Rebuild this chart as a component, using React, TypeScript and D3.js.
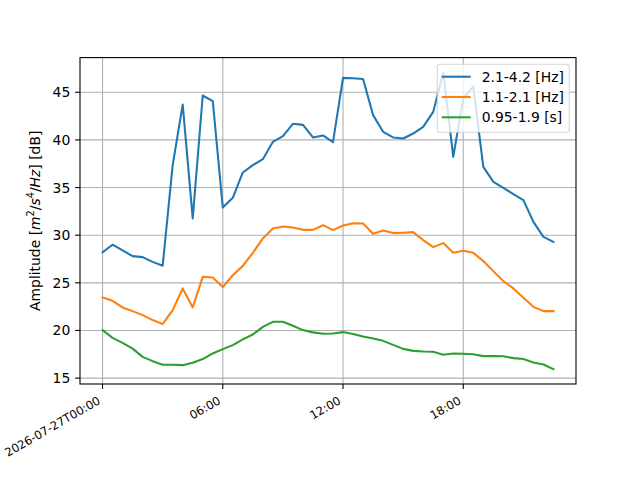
import React from "react";
import * as d3 from "d3";

const START = "2026-07-27T00:00:00";
const STEP_MINUTES = 30;

const blue = [28.2, 29.0, 28.4, 27.8, 27.7, 27.2, 26.8, 37.35, 43.7, 31.76, 44.66, 44.07, 32.9, 33.92, 36.58, 37.35, 37.98, 39.8, 40.39, 41.69, 41.58, 40.26, 40.47, 39.76, 46.51, 46.47, 46.4, 42.6, 40.85, 40.26, 40.15, 40.67, 41.37, 42.94, 47.08, 38.22, 44.35, 45.6, 37.17, 35.6, 34.97, 34.3, 33.68, 31.4, 29.83, 29.3];
const orange = [23.47, 23.11, 22.42, 22.03, 21.61, 21.09, 20.67, 22.13, 24.41, 22.42, 25.63, 25.56, 24.55, 25.8, 26.78, 28.15, 29.66, 30.7, 30.92, 30.81, 30.56, 30.56, 31.05, 30.53, 31.02, 31.26, 31.23, 30.15, 30.49, 30.22, 30.26, 30.32, 29.48, 28.75, 29.17, 28.15, 28.36, 28.15, 27.28, 26.23, 25.18, 24.41, 23.43, 22.48, 22.03, 22.03];
const green = [20.04, 19.23, 18.7, 18.1, 17.23, 16.78, 16.4, 16.4, 16.36, 16.61, 17.0, 17.59, 18.04, 18.46, 19.06, 19.58, 20.38, 20.91, 20.91, 20.49, 20.04, 19.8, 19.65, 19.69, 19.83, 19.62, 19.37, 19.16, 18.91, 18.49, 18.07, 17.86, 17.79, 17.76, 17.45, 17.59, 17.55, 17.5, 17.31, 17.31, 17.3, 17.1, 17.0, 16.64, 16.43, 15.94];

const seriesNames = ["2.1-4.2 [Hz]", "1.1-2.1 [Hz]", "0.95-1.9 [s]"];
const seriesColors = ["#1f77b4", "#ff7f0e", "#2ca02c"];
const seriesValues = [blue, orange, green];

const xTickHours = [0, 6, 12, 18];
const xTickLabels = ["2026-07-27T00:00", "06:00", "12:00", "18:00"];
const yTicks = [15, 20, 25, 30, 35, 40, 45];

const W = 640, H = 480;
const L = 80, R = 576, T = 57.6, B = 384;
const FONT = "DejaVu Sans";

export default function App() {
  const start = new Date(START);
  const times = blue.map((_, i) => new Date(start.getTime() + i * STEP_MINUTES * 60000));
  const t0 = times[0].getTime(), t1 = times[times.length - 1].getTime();
  const tm = (t1 - t0) * 0.05;
  const x = d3.scaleTime().domain([new Date(t0 - tm), new Date(t1 + tm)]).range([L, R]);
  const all = seriesValues.flat();
  const ymin = d3.min(all)!, ymax = d3.max(all)!;
  const ym = (ymax - ymin) * 0.05;
  const y = d3.scaleLinear().domain([ymin - ym, ymax + ym]).range([B, T]);

  const line = d3.line<number>().x((_, i) => x(times[i])).y((v) => y(v));
  const xTicks = xTickHours.map((h) => new Date(t0 + h * 3600000));

  const fs = 13.9;
  const xfs = 11.6;
  const cos30 = Math.cos(Math.PI / 6), sin30 = Math.sin(Math.PI / 6);
  const xh = xfs * 1.16;
  const xd = xfs * 0.236;

  const legX = 437.3, legY = 64.3, legW = 132, legH = 68;
  const rowY = [76.7, 97, 117.3];

  return (
    <svg width={W} height={H} style={{ position: "absolute", left: 0, top: 0, background: "#fff" }} fontFamily={FONT}>
      <rect x={0} y={0} width={W} height={H} fill="#fff" />
      <g>
        {xTicks.map((t, i) => (
          <line key={"gx" + i} x1={x(t)} x2={x(t)} y1={T} y2={B} stroke="#b0b0b0" strokeWidth={1.1} />
        ))}
        {yTicks.map((v) => (
          <line key={"gy" + v} x1={L} x2={R} y1={y(v)} y2={y(v)} stroke="#b0b0b0" strokeWidth={1.1} />
        ))}
      </g>
      <defs>
        <clipPath id="clip">
          <rect x={L} y={T} width={R - L} height={B - T} />
        </clipPath>
      </defs>
      <g clipPath="url(#clip)">
        {seriesValues.map((s, k) => (
          <path key={k} d={line(s) || ""} fill="none" stroke={seriesColors[k]} strokeWidth={2.08} strokeLinejoin="round" strokeLinecap="square" />
        ))}
      </g>
      <rect x={L} y={T} width={R - L} height={B - T} fill="none" stroke="#000" strokeWidth={1.1} />
      {yTicks.map((v) => (
        <g key={"yt" + v}>
          <line x1={L - 4.9} x2={L} y1={y(v)} y2={y(v)} stroke="#000" strokeWidth={1.1} />
          <text x={L - 9.7} y={y(v)} dy="0.36em" textAnchor="end" fontSize={fs} fill="#000">{v}</text>
        </g>
      ))}
      {xTicks.map((t, i) => {
        const px = x(t);
        const py = B + 4.9 + 4.9 + xh * cos30;
        const bx = px - xd * sin30;
        const by = py - xd * cos30;
        return (
          <g key={"xt" + i}>
            <line x1={px} x2={px} y1={B} y2={B + 4.9} stroke="#000" strokeWidth={1.1} />
            <text transform={`translate(${bx},${by}) rotate(-30)`} textAnchor="end" fontSize={xfs} fill="#000">{xTickLabels[i]}</text>
          </g>
        );
      })}
      <text transform={`translate(39.5,${(T + B) / 2}) rotate(-90)`} textAnchor="middle" fontSize={fs} fill="#000">
        <tspan>Amplitude [</tspan>
        <tspan fontStyle="italic">m</tspan>
        <tspan fontSize={fs * 0.7} dy={-fs * 0.4}>2</tspan>
        <tspan dy={fs * 0.4}>/</tspan>
        <tspan fontStyle="italic">s</tspan>
        <tspan fontSize={fs * 0.7} dy={-fs * 0.4}>4</tspan>
        <tspan dy={fs * 0.4}>/</tspan>
        <tspan fontStyle="italic">Hz</tspan>
        <tspan>] [dB]</tspan>
      </text>
      <g>
        <rect x={legX} y={legY} width={legW} height={legH} rx={2.8} fill="#fff" fillOpacity={0.8} stroke="#cccccc" strokeOpacity={0.8} strokeWidth={1.1} />
        {seriesNames.map((n, k) => (
          <g key={n}>
            <line x1={441.7} x2={470.7} y1={rowY[k]} y2={rowY[k]} stroke={seriesColors[k]} strokeWidth={2.08} />
            <text x={481.7} y={rowY[k]} dy="0.36em" fontSize={fs} fill="#000">{n}</text>
          </g>
        ))}
      </g>
    </svg>
  );
}
